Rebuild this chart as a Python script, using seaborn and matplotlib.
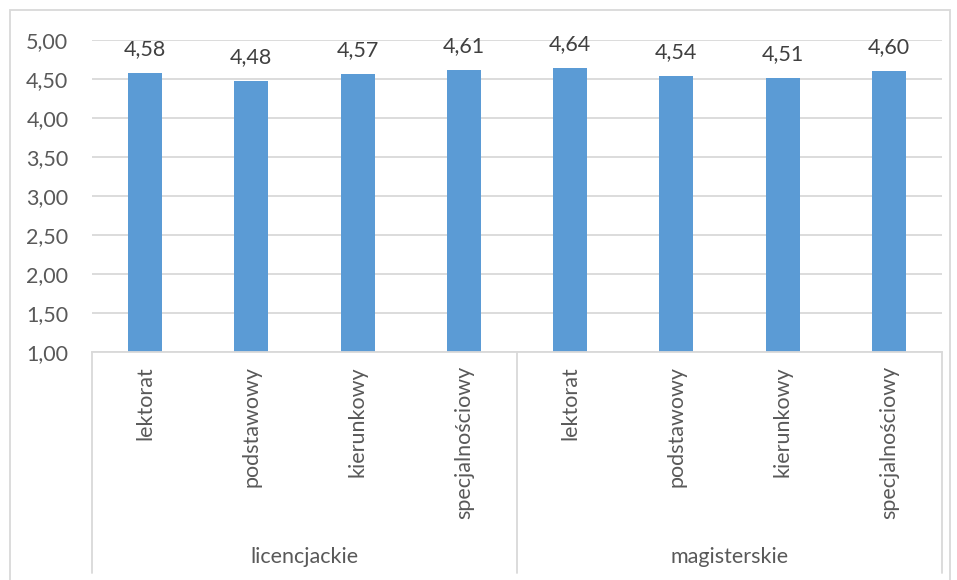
import matplotlib
matplotlib.use("Agg")
import matplotlib.pyplot as plt
import seaborn as sns
import pandas as pd
from matplotlib.lines import Line2D
from matplotlib.patches import Rectangle
import matplotlib.transforms as mtrans

groups = ["licencjackie", "magisterskie"]
categories = ["lektorat", "podstawowy", "kierunkowy", "specjalnościowy"]
values_lic = [4.58, 4.48, 4.57, 4.61]
values_mag = [4.64, 4.54, 4.51, 4.60]
yticks = [1.0, 1.5, 2.0, 2.5, 3.0, 3.5, 4.0, 4.5, 5.0]

rows = []
for g, vals in zip(groups, [values_lic, values_mag]):
    for c, v in zip(categories, vals):
        rows.append({"key": f"{g}|{c}", "group": g, "cat": c, "value": v})
df = pd.DataFrame(rows)
order = list(df["key"])

sns.set_style("white")
plt.rcParams["font.family"] = ["Lato", "DejaVu Sans"]
text_color = "#595959"
grid_color = "#D9D9D9"
FS = 15.5

W, H = 957, 580
fig = plt.figure(figsize=(W / 100, H / 100), dpi=100)
left, right, top, bottom = 92, 942, 40, 352
ax = fig.add_axes([left / W, 1 - bottom / H, (right - left) / W, (bottom - top) / H])

sns.barplot(data=df, x="key", y="value", order=order, color="#5B9BD5",
            width=0.32, ax=ax, saturation=1, edgecolor="none")

ax.set_ylim(1, 5)
ax.set_yticks(yticks)
ax.set_yticklabels([f"{t:.2f}".replace(".", ",") for t in yticks],
                   color=text_color, fontsize=FS)
ax.yaxis.grid(True, color=grid_color, linewidth=1.3)
ax.set_axisbelow(True)
ax.tick_params(axis="y", length=0, pad=17)
ax.tick_params(axis="x", length=0, pad=10)
ax.set_xticks(range(len(order)))
ax.set_xticklabels(list(df["cat"]), rotation=90, color=text_color,
                   fontsize=FS, va="top", ha="center")
ax.set_xlabel("")
ax.set_ylabel("")
for s in ["top", "right", "left"]:
    ax.spines[s].set_visible(False)
ax.spines["bottom"].set_color(grid_color)
ax.spines["bottom"].set_linewidth(1.3)
ax.set_xlim(-0.5, len(order) - 0.5)

for i, v in enumerate(df["value"]):
    ax.annotate(f"{v:.2f}".replace(".", ","), (i, v), xytext=(0, 10),
                textcoords="offset points", ha="center", va="bottom",
                color="#404040", fontsize=FS)

# multi-level axis separators and group labels
trans = mtrans.blended_transform_factory(ax.transData, fig.transFigure)
y0 = 1 - bottom / H
y1 = 1 - 573 / H
for xpos in [-0.5, 3.5, 7.5]:
    fig.add_artist(Line2D([xpos, xpos], [y0, y1], transform=trans,
                          color=grid_color, linewidth=1.3))
for gi, g in enumerate(groups):
    xc = gi * 4 + 1.5
    fig.text(xc, 1 - 557 / H, g, transform=trans, ha="center", va="center",
             color=text_color, fontsize=FS)

# outer chart border
fig.add_artist(Rectangle((10 / W, -0.02), (950 - 10) / W, 1 - 10 / H + 0.02,
                         transform=fig.transFigure, fill=False,
                         edgecolor=grid_color, linewidth=1.3))

fig.savefig("out.png", dpi=100)
